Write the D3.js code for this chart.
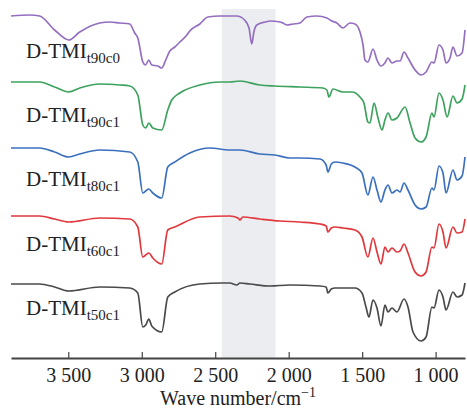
<!DOCTYPE html>
<html>
<head>
<meta charset="utf-8">
<script src="https://cdn.jsdelivr.net/npm/d3@7"></script>
<style>
  body { margin: 0; background: #fff; }
  svg text { font-family: "Liberation Serif", "Times New Roman", serif; fill: #222; }
</style>
</head>
<body>
<div class="plot-1"></div>
<script>
// spectra: [wave number, relative transmittance (a.u.)]
var t90c0 = [[3890,342],[3763,343],[3695,342],[3593,328],[3497,318],[3422,326],[3286,335],[3218,336],[3150,335],[3082,334],[3048,325],[3027,320],[2993,296],[2975,293],[2952,298],[2932,293],[2891,292],[2864,290],[2837,298],[2809,307],[2775,311],[2741,316],[2693,323],[2673,327],[2605,334],[2550,341],[2469,342],[2401,342],[2353,342],[2300,338],[2270,330],[2251,314],[2237,326],[2217,333],[2160,336],[2128,337],[2060,336],[2040,335],[2012,333],[1970,334],[1924,335],[1876,341],[1808,342],[1740,340],[1706,337],[1672,335],[1631,330],[1583,335],[1549,334],[1515,326],[1494,313],[1481,298],[1461,296],[1426,309],[1399,298],[1372,292],[1345,295],[1324,300],[1297,295],[1263,297],[1242,297],[1215,306],[1188,300],[1140,288],[1099,283],[1065,286],[1025,296],[1011,295],[977,313],[950,308],[929,295],[902,300],[882,311],[854,302],[820,305],[800,328]];
var t90c1 = [[3890,276],[3695,276],[3593,271],[3497,266],[3422,270],[3286,274],[3150,273],[3082,272],[3027,263],[2993,233],[2973,230],[2952,235],[2925,230],[2864,228],[2823,248],[2796,258],[2741,265],[2605,273],[2469,276],[2401,276],[2332,277],[2196,273],[2094,272],[1924,271],[1767,270],[1740,268],[1726,261],[1699,269],[1631,266],[1569,266],[1515,261],[1488,255],[1461,236],[1447,235],[1419,255],[1392,240],[1365,228],[1345,238],[1324,245],[1297,238],[1263,240],[1208,251],[1174,235],[1140,220],[1099,216],[1065,221],[1025,245],[1011,241],[977,265],[950,258],[922,241],[882,262],[854,255],[820,259],[800,273]];
var t80c1 = [[3890,210],[3695,210],[3593,206],[3497,201],[3422,204],[3286,208],[3082,206],[3027,196],[2993,165],[2973,167],[2952,169],[2925,165],[2864,160],[2823,191],[2775,196],[2673,205],[2537,210],[2401,208],[2332,208],[2196,204],[2094,203],[1992,200],[1924,200],[1787,199],[1745,193],[1733,186],[1710,194],[1685,196],[1631,195],[1549,191],[1501,185],[1461,163],[1426,181],[1399,168],[1372,156],[1345,168],[1324,173],[1297,165],[1263,168],[1242,166],[1215,175],[1188,168],[1140,153],[1099,149],[1065,151],[1025,170],[1011,168],[977,192],[950,185],[929,165],[882,188],[854,178],[820,182],[800,201]];
var t60c1 = [[3890,142],[3695,142],[3593,139],[3497,136],[3286,140],[3082,139],[3027,131],[2993,101],[2973,103],[2952,105],[2925,100],[2864,94],[2823,128],[2775,131],[2605,141],[2401,142],[2345,140],[2332,138],[2312,141],[2196,139],[2060,137],[1924,136],[1787,134],[1745,132],[1733,126],[1710,130],[1685,131],[1631,130],[1549,128],[1501,121],[1461,101],[1426,120],[1399,106],[1372,94],[1345,111],[1324,106],[1297,110],[1263,106],[1242,107],[1215,114],[1188,105],[1140,86],[1099,82],[1065,86],[1025,111],[1011,110],[977,134],[950,126],[929,110],[882,131],[854,125],[820,126],[800,139]];
var t50c1 = [[3890,74],[3695,74],[3593,71],[3497,67],[3286,71],[3082,70],[3027,65],[2993,31],[2973,33],[2952,39],[2932,32],[2864,26],[2823,61],[2775,66],[2605,74],[2455,75],[2401,75],[2353,73],[2332,75],[2264,74],[2128,72],[1992,73],[1787,72],[1745,71],[1733,65],[1710,69],[1685,70],[1549,70],[1501,65],[1474,51],[1454,41],[1426,58],[1399,50],[1372,32],[1345,53],[1324,46],[1297,50],[1263,46],[1215,59],[1188,51],[1154,26],[1099,17],[1065,21],[1025,51],[1011,50],[977,68],[950,61],[929,48],[882,66],[854,61],[820,63],[800,75]];

var seriesNames = ['t90c0', 't90c1', 't80c1', 't60c1', 't50c1'];
var seriesData = [t90c0, t90c1, t80c1, t60c1, t50c1];
var seriesColors = ['#946fc0', '#3da25d', '#3b70bd', '#e0393d', '#4a4a4a'];
var labelValues = [300, 236, 172, 107, 43];   // where each name sits (same units as the spectra)
var tickValues = [3500, 3000, 2500, 2000, 1500, 1000];
var bandRange = [2455, 2090];   // shaded region

var svgDims = {width: 467, height: 408};
var margin = {top: 8, right: 2, bottom: 50, left: 11};

var svg = d3.select('.plot-1')
            .append('svg')
            .attr('width', svgDims.width)
            .attr('height', svgDims.height);

// escalas
var xScale = d3.scaleLinear()
               .domain([3890, 800])
               .range([margin.left, svgDims.width - margin.right]);

var yScale = d3.scaleLinear()
               .domain([0, 350])
               .range([svgDims.height - margin.bottom, margin.top]);

// faixa cinza
svg.append('rect')
   .attr('x', xScale(bandRange[0]))
   .attr('y', yScale(349))
   .attr('width', xScale(bandRange[1]) - xScale(bandRange[0]))
   .attr('height', yScale(0) - yScale(349))
   .attr('fill', '#ecedf0');

var line = d3.line()
             .x(function(d) { return xScale(d[0]); })
             .y(function(d) { return yScale(d[1]); })
             .curve(d3.curveMonotoneX);

svg.selectAll('.spec')
   .data(seriesData)
   .enter()
   .append('path')
   .attr('class', 'spec')
   .attr('d', line)
   .attr('fill', 'none')
   .attr('stroke', function(d, i) { return seriesColors[i]; })
   .attr('stroke-width', 1.7)
   .attr('stroke-linejoin', 'round');

// rótulos
var labels = svg.selectAll('.lbl')
   .data(seriesNames)
   .enter()
   .append('text')
   .attr('class', 'lbl')
   .attr('x', 26)
   .attr('y', function(d, i) { return yScale(labelValues[i]); })
   .style('font-size', '21px');

labels.append('tspan').text('D-TMI');
labels.append('tspan')
      .attr('dy', 5)
      .style('font-size', '15px')
      .text(function(d) { return d; });

// eixo x
var fmt = d3.formatLocale({decimal: '.', thousands: ' ', grouping: [3], currency: ['', '']}).format(',');

var xAxis = d3.axisBottom(xScale)
              .tickValues(tickValues)
              .tickFormat(fmt)
              .tickSizeInner(-6)
              .tickSizeOuter(0)
              .tickPadding(10);

var gx = svg.append('g')
            .attr('transform', 'translate(0,' + yScale(0) + ')')
            .call(xAxis);

gx.select('.domain').attr('stroke', '#444').attr('stroke-width', 1.8);
gx.selectAll('.tick line').attr('stroke', '#444').attr('stroke-width', 1.2);
gx.selectAll('.tick text')
  .style('font-size', '20px')
  .style('font-family', '"Liberation Serif", serif')
  .attr('fill', '#222');

var title = svg.append('text')
   .attr('x', (xScale.range()[0] + xScale.range()[1]) / 2)
   .attr('y', 405)
   .attr('text-anchor', 'middle')
   .style('font-size', '20px');

title.append('tspan').text('Wave number/cm');
title.append('tspan')
     .attr('dy', -8)
     .style('font-size', '14px')
     .text('\u22121');
</script>
</body>
</html>
